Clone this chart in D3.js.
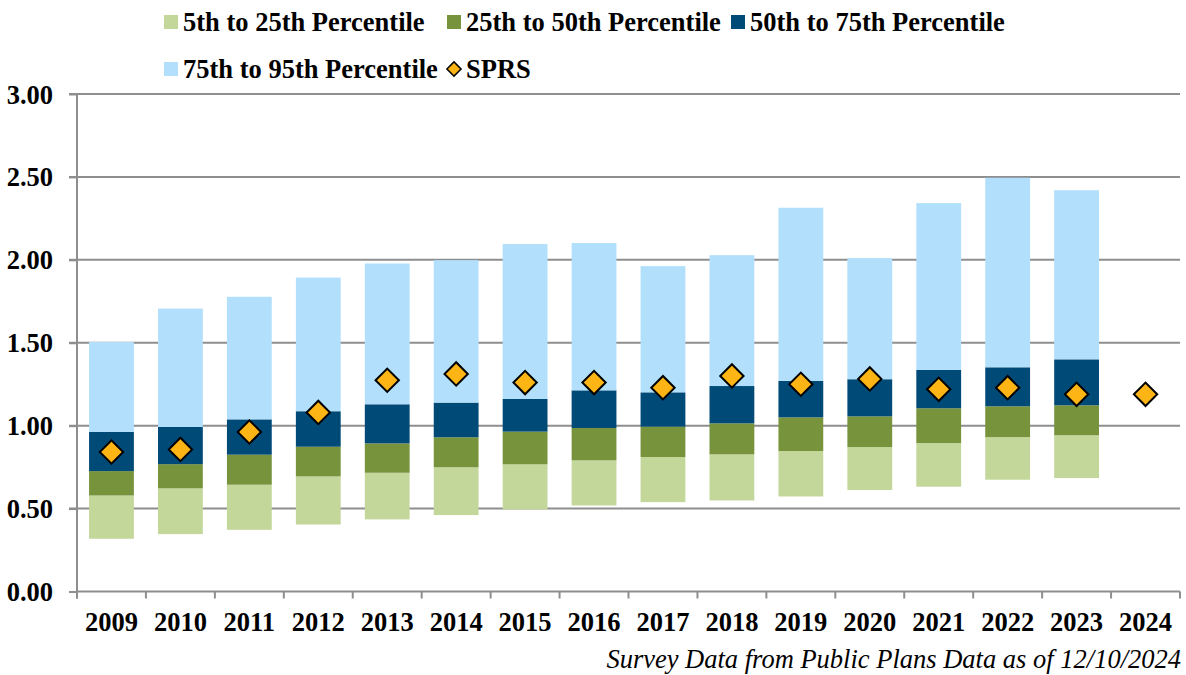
<!DOCTYPE html>
<html>
<head>
<meta charset="utf-8">
<script src="https://cdn.jsdelivr.net/npm/d3@7"></script>
<style>
  html, body { margin: 0; padding: 0; background: #fff; }
  svg { display: block; }
  text { font-family: "Liberation Serif", "Times New Roman", serif; fill: #000; }
</style>
</head>
<body>
<svg id="chart" width="1186" height="675"></svg>
<script>
const years = ["2009","2010","2011","2012","2013","2014","2015","2016","2017","2018","2019","2020","2021","2022","2023","2024"];
const p5  = [0.318,0.346,0.372,0.404,0.435,0.461,0.495,0.519,0.539,0.549,0.573,0.612,0.632,0.674,0.684,null];
const p25 = [0.579,0.622,0.644,0.694,0.716,0.749,0.767,0.791,0.811,0.827,0.847,0.871,0.895,0.931,0.942,null];
const p50 = [0.726,0.768,0.825,0.873,0.893,0.930,0.964,0.986,0.994,1.014,1.050,1.056,1.105,1.117,1.123,null];
const p75 = [0.962,0.992,1.038,1.087,1.129,1.139,1.161,1.213,1.201,1.239,1.270,1.280,1.336,1.352,1.400,null];
const p95 = [1.505,1.706,1.777,1.893,1.978,1.998,2.095,2.101,1.962,2.028,2.314,2.010,2.342,2.495,2.420,null];
const sprs = [0.841,0.857,0.962,1.080,1.274,1.312,1.260,1.260,1.229,1.300,1.250,1.282,1.219,1.229,1.189,1.189];
const yTicks = [0, 0.5, 1.0, 1.5, 2.0, 2.5, 3.0];
const seriesNames = ["5th to 25th Percentile","25th to 50th Percentile","50th to 75th Percentile","75th to 95th Percentile"];
const markerName = "SPRS";
const footnote = "Survey Data from Public Plans Data as of 12/10/2024";

const colors = ["#C4D79B","#77933C","#004A78","#B1DFFC"];
const markerColor = "#FCB514";
const gridColor = "#8E8E8E";

const bounds = [p5, p25, p50, p75, p95];
const segments = seriesNames.map((name, k) => ({
  name, color: colors[k],
  values: years.map((yr, i) => ({ yr, lo: bounds[k][i], hi: bounds[k+1][i] }))
}));

const svg = d3.select("#chart");
const pLeft = 77, pRight = 1180, pTop = 94, pBottom = 591.5;

const x = d3.scaleBand().domain(years).range([pLeft, pRight]).paddingInner(0.35).paddingOuter(0.175);
const xb = d3.scaleBand().domain(years).range([pLeft, pRight]);
const y = d3.scaleLinear().domain([0, 3]).range([pBottom, pTop]);

// gridlines
svg.append("g").selectAll("line").data(yTicks.filter(d => d > 0)).join("line")
  .attr("x1", pLeft - 8).attr("x2", pRight)
  .attr("y1", d => y(d)).attr("y2", d => y(d))
  .attr("stroke", gridColor).attr("stroke-width", 2);

// bars
const gBars = svg.append("g");
segments.forEach(s => {
  gBars.append("g").selectAll("rect").data(s.values.filter(v => v.lo != null)).join("rect")
    .attr("x", d => x(d.yr))
    .attr("width", x.bandwidth())
    .attr("y", d => y(d.hi))
    .attr("height", d => y(d.lo) - y(d.hi))
    .attr("fill", s.color);
});

// axes
const yAxis = svg.append("g").attr("transform", `translate(${pLeft},0)`)
  .call(d3.axisLeft(y).tickValues(yTicks).tickSize(8).tickSizeOuter(0).tickFormat(d3.format(".2f")));
yAxis.select(".domain").attr("stroke", gridColor).attr("stroke-width", 2).attr("d", `M0,${pTop}V${pBottom + 7}`);
yAxis.selectAll(".tick line").attr("stroke", gridColor).attr("stroke-width", 2);
yAxis.selectAll(".tick text").attr("x", -24).attr("dy", "0.34em")
  .style("font-size", "26.5px").style("font-weight", "bold").style("font-family", "'Liberation Serif', serif").attr("fill", "#000");

const xAxis = svg.append("g").attr("transform", `translate(0,${pBottom})`);
xAxis.append("line").attr("x1", pLeft).attr("x2", pRight).attr("y1", 0).attr("y2", 0)
  .attr("stroke", gridColor).attr("stroke-width", 2);
xAxis.selectAll("line.tk").data(years.concat(["end"])).join("line").attr("class", "tk")
  .attr("x1", (d, i) => i < years.length ? xb(d) : pRight)
  .attr("x2", (d, i) => i < years.length ? xb(d) : pRight)
  .attr("y1", 0).attr("y2", 7).attr("stroke", gridColor).attr("stroke-width", 2);
xAxis.selectAll("text").data(years).join("text")
  .attr("x", d => xb(d) + xb.bandwidth() / 2).attr("y", 39.5)
  .attr("text-anchor", "middle").style("font-size", "26.5px").style("font-weight", "bold")
  .text(d => d);

// SPRS markers
svg.append("g").selectAll("path").data(years.map((yr, i) => ({ yr, v: sprs[i] }))).join("path")
  .attr("d", d3.symbol().type(d3.symbolSquare).size(16.5 * 16.5))
  .attr("transform", d => `translate(${xb(d.yr) + xb.bandwidth() / 2},${y(d.v)}) rotate(45)`)
  .attr("fill", markerColor).attr("stroke", "#000").attr("stroke-width", 2);

// legend
const legendItems = [
  { name: seriesNames[0], color: colors[0], col: 0, row: 0, type: "rect" },
  { name: seriesNames[1], color: colors[1], col: 1, row: 0, type: "rect" },
  { name: seriesNames[2], color: colors[2], col: 2, row: 0, type: "rect" },
  { name: seriesNames[3], color: colors[3], col: 0, row: 1, type: "rect" },
  { name: markerName, color: markerColor, col: 1, row: 1, type: "diamond" }
];
const lg = svg.append("g");
const colX = [164, 447, 731], rowY = [22, 69];
legendItems.forEach(it => {
  const gx = colX[it.col], gy = rowY[it.row];
  if (it.type === "rect") {
    lg.append("rect").attr("x", gx).attr("y", gy - 7).attr("width", 14).attr("height", 14).attr("fill", it.color);
  } else {
    lg.append("path").attr("d", d3.symbol().type(d3.symbolSquare).size(10 * 10))
      .attr("transform", `translate(${gx + 7},${gy}) rotate(45)`)
      .attr("fill", it.color).attr("stroke", "#000").attr("stroke-width", 1.5);
  }
  lg.append("text").attr("x", gx + 19).attr("y", gy + 8.5)
    .style("font-size", "26.5px").style("font-weight", "bold").text(it.name);
});

// footnote
svg.append("text").attr("x", 1181).attr("y", 668).attr("text-anchor", "end")
  .style("font-size", "26.5px").style("font-style", "italic").text(footnote);
</script>
</body>
</html>
